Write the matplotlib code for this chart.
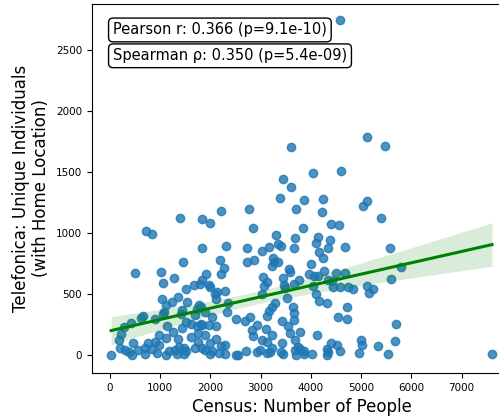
import numpy as np
import matplotlib
matplotlib.use("Agg")
from matplotlib import pyplot as plt

# census population vs. telefonica unique individuals (home location), per area
census = [
    4580, 5120, 5474, 3600, 4600, 4034, 3454, 3594, 3386, 3866,
    4240, 5126, 5040, 3700, 4214, 1400, 1840, 1986, 2214, 2774,
    2846, 3300, 3674, 720, 840, 5400, 3840, 4400, 4554, 4140,
    4380, 1826, 2306, 2734, 3034, 3174, 3354, 3400, 3654, 2180,
    2260, 2206, 2734, 2860, 3254, 3270, 3220, 3346, 3554, 3586,
    3454, 3040, 3120, 1914, 1834, 1966, 3670, 3766, 1460, 500,
    1014, 1274, 1060, 1670, 4100, 4680, 4154, 4234, 4334, 5574,
    4000, 3966, 4066, 4134, 4254, 4500, 4680, 4334, 4414, 4034,
    4434, 4574, 4734, 4834, 4100, 5114, 5234, 5166, 5586, 5800,
    1510, 1800, 1986, 2080, 2134, 2286, 1346, 1034, 1234, 1114,
    1534, 2100, 2354, 3020, 3066, 3466, 3480, 3520, 3280, 1766,
    1806, 1434, 1420, 1080, 1060, 1734, 1700, 1900, 646, 606,
    414, 274, 886, 1126, 1246, 1434, 1514, 1620, 1806, 1734,
    1746, 1614, 1346, 966, 1106, 900, 966, 746, 566, 686,
    840, 466, 220, 186, 194, 300, 386, 20, 446, 700,
    940, 1114, 1180, 1300, 1366, 1474, 1514, 1466, 1326, 1700,
    1746, 2034, 2320, 2500, 2686, 2786, 1834, 1966, 2100, 1900,
    2110, 2000, 2200, 2286, 1834, 1900, 2034, 2000, 2166, 2280,
    2500, 2540, 2714, 2834, 2840, 2934, 3100, 3020, 3134, 3234,
    2920, 2986, 3134, 3180, 3234, 3400, 3446, 3420, 3580, 3680,
    3686, 3700, 3434, 3654, 3534, 3166, 3120, 3220, 3634, 3666,
    3780, 3734, 3786, 3866, 3866, 4020, 4120, 4320, 4334, 4314,
    4400, 4514, 4574, 5000, 5014, 4954, 5346, 5534, 5666, 7606,
    4720, 4546, 4714, 5686, 4154, 4320,
]
telefonica = [
    2741, 1788, 1714, 1706, 1510, 1491, 1442, 1379, 1284, 1268,
    1281, 1260, 1219, 1197, 1170, 1121, 1118, 1085, 1178, 1194,
    1042, 987, 958, 1017, 990, 1123, 1042, 1072, 1069, 971,
    944, 878, 897, 881, 856, 884, 908, 891, 881, 780,
    717, 663, 761, 778, 799, 768, 734, 766, 707, 680,
    631, 645, 600, 663, 617, 576, 588, 614, 766, 672,
    682, 636, 590, 578, 922, 889, 848, 799, 876, 878,
    745, 663, 652, 650, 693, 672, 672, 617, 609, 568,
    557, 562, 562, 541, 502, 570, 541, 508, 625, 725,
    541, 584, 562, 502, 519, 525, 478, 462, 440, 413,
    441, 464, 431, 502, 570, 576, 549, 467, 431, 410,
    396, 372, 337, 358, 335, 380, 331, 355, 323, 304,
    263, 230, 296, 245, 194, 227, 276, 257, 255, 241,
    181, 149, 132, 167, 147, 110, 86, 100, 45, 59,
    53, 106, 176, 127, 59, 45, 31, 0, 4, 12,
    18, 2, 39, 45, 67, 59, 37, 16, 12, 59,
    108, 317, 353, 296, 284, 312, 249, 249, 243, 167,
    131, 100, 80, 88, 59, 45, 39, 10, 18, 12,
    4, 0, 37, 208, 159, 249, 217, 127, 110, 167,
    26, 49, 18, 26, 59, 31, 10, 100, 186, 123,
    45, 4, 282, 290, 243, 364, 325, 399, 399, 345,
    196, 67, 51, 39, 12, 12, 165, 53, 26, 4,
    100, 83, 39, 127, 86, 23, 80, 12, 121, 10,
    394, 312, 296, 257, 445, 431,
]

pearson_text = "Pearson r: 0.366 (p=9.1e-10)"
spearman_text = "Spearman \u03c1: 0.350 (p=5.4e-09)"

x = np.array(census, dtype=float)
y = np.array(telefonica, dtype=float)

# least-squares fit with a 95% confidence band for the mean
n = len(x)
slope, intercept = np.polyfit(x, y, 1)
resid = y - (slope * x + intercept)
s = np.sqrt(np.sum(resid ** 2) / (n - 2))
sxx = np.sum((x - x.mean()) ** 2)
grid = np.linspace(x.min(), x.max(), 100)
fit = slope * grid + intercept
half = 1.97 * s * np.sqrt(1.0 / n + (grid - x.mean()) ** 2 / sxx)

fig = plt.figure(figsize=(4.99, 4.19), dpi=100)
ax = fig.add_axes([92 / 499, 46 / 419, 419 / 499, 369 / 419])

ax.scatter(x, y, s=36, color="#1f77b4", alpha=0.8, linewidths=1, edgecolor="face")
ax.fill_between(grid, fit - half, fit + half, color="green", alpha=0.15, linewidth=0)
ax.plot(grid, fit, color="green", linewidth=2.2)

ax.set_xlim(-360, 7985)
ax.set_ylim(-143, 2872)
ax.set_xticks(range(0, 8000, 1000))
ax.set_yticks(range(0, 3000, 500))
ax.tick_params(labelsize=7.5)

ax.set_xlabel("Census: Number of People", fontsize=12)
ax.set_ylabel("Telefonica: Unique Individuals\n(with Home Location)", fontsize=12)

box = dict(boxstyle="round", facecolor="white", edgecolor="black")
ax.text(0.05, 0.95, pearson_text, transform=ax.transAxes, va="top",
        fontsize=10.5, bbox=box)
ax.text(0.05, 0.88, spearman_text, transform=ax.transAxes, va="top",
        fontsize=10.5, bbox=box)

fig.savefig("out.png", dpi=100)
